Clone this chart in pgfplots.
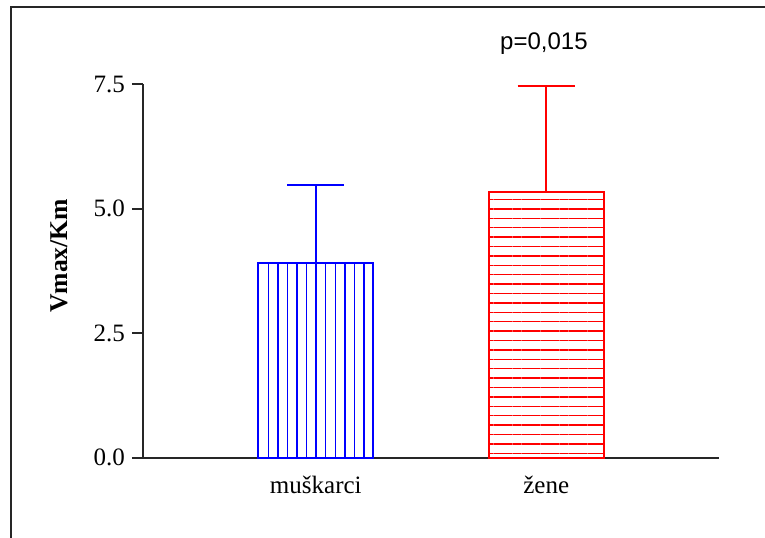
\documentclass[border=0pt]{standalone}
\usepackage{fontspec}
\setmainfont{Liberation Serif}
\newfontfamily\arialfont{Liberation Sans}
\usepackage{pgfplots}
\pgfplotsset{compat=1.18}
\usetikzlibrary{patterns.meta}
\begin{document}
\begin{tikzpicture}
\path[use as bounding box] (0bp,0bp) rectangle (382.5bp,269bp);
\draw[line width=1bp, black!85] (5.5bp,-10bp) -- (5.5bp,265.5bp) -- (395bp,265.5bp);
\begin{axis}[
  at={(71.5bp,40.15bp)}, anchor=south west,
  scale only axis, width=288bp, height=186.85bp,
  xmin=-0.75, xmax=1.75, ymin=0, ymax=7.5,
  axis x line*=bottom, axis y line*=left,
  axis line style={-, line width=1bp, black!85},
  xtick={0,1}, xticklabels={muškarci, žene},
  x tick style={draw=none},
  ytick={0,2.5,5,7.5},
  tick align=outside, major tick length=5.5bp,
  y tick style={line width=1bp, black!85},
  /pgf/number format/assume math mode=true,
  yticklabel style={/pgf/number format/fixed, /pgf/number format/fixed zerofill, /pgf/number format/precision=1},
  tick label style={font=\fontsize{12.5bp}{15bp}\selectfont},
  ylabel={\bfseries Vmax/Km},
  ylabel style={font=\fontsize{12.8bp}{15bp}\selectfont, at={(axis description cs:-0.146,0.54)}, anchor=center},
  clip=false,
]
\addplot[ybar, bar width=0.5, bar shift=0pt, draw=blue, line width=1bp,
  pattern={Lines[angle=90,distance=4.79bp,line width=0.7bp]}, pattern color=blue,
  error bars/.cd, y dir=plus, y explicit,
  error bar style={line width=1bp, blue},
  error mark options={rotate=90, mark size=14.25bp, line width=1bp, blue}]
  coordinates {(0,3.90) +- (0,1.57)};
\addplot[ybar, bar width=0.5, bar shift=0pt, draw=red, line width=1bp,
  pattern={Lines[angle=0,distance=4.7bp,line width=0.7bp]}, pattern color=red,
  error bars/.cd, y dir=plus, y explicit,
  error bar style={line width=1bp, red},
  error mark options={rotate=90, mark size=14.25bp, line width=1bp, red}]
  coordinates {(1,5.33) +- (0,2.13)};
\node[font=\arialfont\fontsize{12bp}{14bp}\selectfont, anchor=base] at (axis cs:0.99,8.19) {p=0,015};
\end{axis}
\end{tikzpicture}
\end{document}
